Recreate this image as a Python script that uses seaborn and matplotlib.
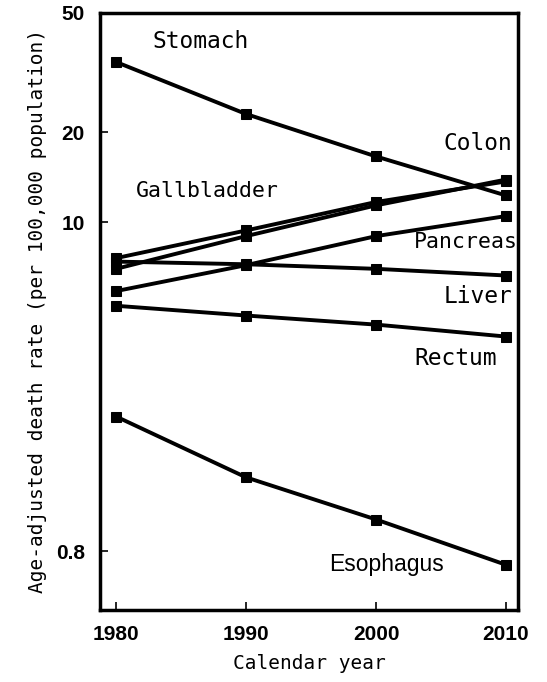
import pandas as pd
import matplotlib
matplotlib.use("Agg")
import matplotlib.pyplot as plt
import seaborn as sns

# Age-adjusted death rates (per 100,000)
years = [1980, 1990, 2000, 2010]
stomach = [34.3, 23.0, 16.6, 12.3]
colon = [7.0, 9.0, 11.4, 13.9]
gallbladder = [7.6, 9.4, 11.7, 13.7]
pancreas = [5.9, 7.2, 9.0, 10.5]
liver = [7.4, 7.25, 7.0, 6.65]
rectum = [5.27, 4.89, 4.56, 4.16]
esophagus = [2.25, 1.41, 1.02, 0.72]

sites = ["Stomach", "Colon", "Gallbladder", "Pancreas", "Liver", "Rectum", "Esophagus"]
rates = [stomach, colon, gallbladder, pancreas, liver, rectum, esophagus]

df = pd.DataFrame({
    "year": years * len(sites),
    "rate": [v for r in rates for v in r],
    "site": [s for s in sites for _ in years],
})

sns.set_style("ticks", {"axes.edgecolor": "black", "text.color": "black",
                        "xtick.color": "black", "ytick.color": "black",
                        "axes.labelcolor": "black"})
plt.rcParams['font.family'] = ['DejaVu Sans']

fig = plt.figure(figsize=(5.47, 6.82), dpi=100)
ax = fig.add_axes([0.183, 0.106, 0.764, 0.875])

sns.lineplot(data=df, x="year", y="rate", hue="site", palette=["black"] * len(sites),
             marker="s", markersize=7, markeredgecolor="black", linewidth=2.8,
             dashes=False, legend=False, ax=ax)

ax.set_yscale("log")
ax.set_ylim(0.51, 50)
ax.set_xlim(1978.77, 2010.92)
ax.set_yticks([0.8, 10, 20, 50])
ax.set_yticklabels(["0.8", "10", "20", "50"])
ax.minorticks_off()
ax.set_xticks(years)
ax.set_xticklabels([str(y) for y in years])
ax.tick_params(direction="in", length=6, width=1.2, labelsize=15, pad=11, colors="black")
for lab in ax.get_xticklabels() + ax.get_yticklabels():
    lab.set_fontweight("bold")
    lab.set_family(["Liberation Sans", "DejaVu Sans"])
for s in ax.spines.values():
    s.set_linewidth(2.5)
    s.set_edgecolor("black")
    s.set_visible(True)

mono = ["DejaVu Sans Mono", "DejaVu Sans"]
ax.set_xlabel("Calendar year", fontsize=14, family=mono, labelpad=7)
ax.set_ylabel("Age-adjusted death rate (per 100,000 population)", fontsize=14,
              family=mono, labelpad=6)

# curve labels
txt = dict(fontsize=16.5, family=mono, color="black", va="center")
ax.text(1982.8, 40.3, "Stomach", ha="left", **txt)
ax.text(2010.5, 18.3, "Colon", ha="right", **txt)
ax.text(1981.5, 12.7, "Gallbladder", ha="left", fontsize=15.5, family=mono, va="center")
ax.text(2010.9, 8.6, "Pancreas", ha="right", fontsize=15.5, family=mono, va="center")
ax.text(2010.5, 5.65, "Liver", ha="right", **txt)
ax.text(2009.3, 3.51, "Rectum", ha="right", **txt)
ax.text(2005.2, 0.72, "Esophagus", ha="right", fontsize=16.5, color="black", va="center",
        family=["Liberation Sans", "DejaVu Sans"])

fig.savefig("out.png", dpi=100)
